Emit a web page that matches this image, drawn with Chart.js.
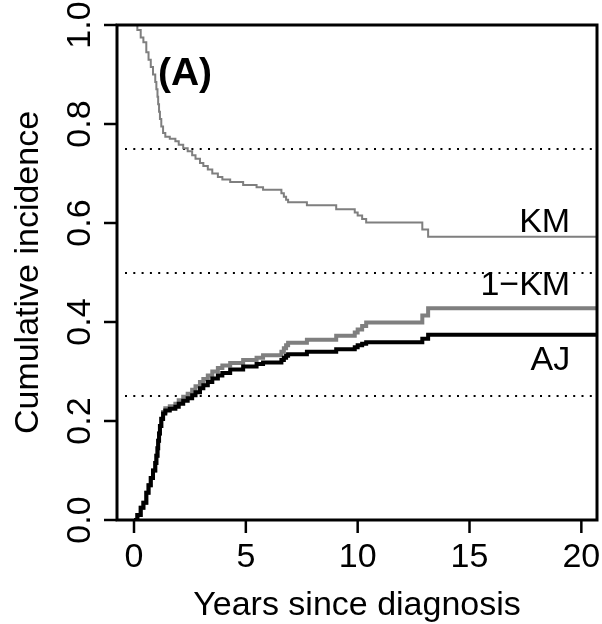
<!DOCTYPE html>
<html>
<head>
<meta charset="utf-8">
<script src="https://cdn.jsdelivr.net/npm/chart.js@4.4.1/dist/chart.umd.min.js"></script>
<style>
html, body { margin: 0; padding: 0; background: #fff; }
#wrap { width: 602px; height: 624px; }
</style>
</head>
<body>
<div id="wrap"><canvas id="graphCanvas" width="602" height="624"></canvas></div>
<script>
// event times (years) and curve values
var times = [0, 0.15, 0.3, 0.42, 0.55, 0.65, 0.75, 0.85, 0.95, 1.0, 1.05, 1.08, 1.12, 1.16, 1.22, 1.3, 1.4, 1.6, 1.85, 2.0,
             2.2, 2.4, 2.6, 2.75, 2.95, 3.1, 3.3, 3.5, 3.75, 3.95, 4.3, 4.88, 5.48, 5.77, 6.59, 6.7, 6.8, 6.89, 7.73, 9.04,
             9.87, 10.0, 10.2, 10.38, 12.89, 13.15, 20.8];
var km = [1.0, 0.99, 0.975, 0.965, 0.945, 0.93, 0.915, 0.90, 0.885, 0.87, 0.855, 0.84, 0.825, 0.81, 0.795, 0.782, 0.774, 0.770, 0.765, 0.758,
          0.751, 0.745, 0.737, 0.730, 0.721, 0.715, 0.708, 0.700, 0.693, 0.688, 0.683, 0.677, 0.672, 0.667, 0.660, 0.653, 0.647, 0.642, 0.636, 0.628,
          0.621, 0.615, 0.608, 0.601, 0.587, 0.572, 0.572];
var oneMinusKm = [0, 0.01, 0.025, 0.035, 0.055, 0.07, 0.085, 0.10, 0.115, 0.13, 0.145, 0.16, 0.175, 0.19, 0.205, 0.218, 0.226, 0.230, 0.235, 0.242,
                  0.249, 0.255, 0.263, 0.270, 0.279, 0.285, 0.292, 0.300, 0.307, 0.312, 0.317, 0.323, 0.328, 0.333, 0.340, 0.347, 0.353, 0.358, 0.364, 0.372,
                  0.379, 0.385, 0.392, 0.399, 0.413, 0.428, 0.428];
var aj = [0, 0.01, 0.025, 0.035, 0.055, 0.07, 0.085, 0.10, 0.115, 0.13, 0.145, 0.16, 0.175, 0.19, 0.204, 0.215, 0.221, 0.225, 0.229, 0.235,
          0.241, 0.246, 0.252, 0.258, 0.266, 0.272, 0.279, 0.286, 0.292, 0.297, 0.304, 0.310, 0.315, 0.318, 0.323, 0.328, 0.332, 0.335, 0.340, 0.345,
          0.349, 0.353, 0.356, 0.359, 0.366, 0.374, 0.374];

var xTicks = [0, 5, 10, 15, 20];
var yTicks = [0, 0.2, 0.4, 0.6, 0.8, 1.0];
var yTickLabels = ['0.0', '0.2', '0.4', '0.6', '0.8', '1.0'];
var refLines = [0.25, 0.5, 0.75];
var curveNames = ['KM', '1\u2212KM', 'AJ'];
var panelLabel = '(A)';
var xTitle = 'Years since diagnosis';
var yTitle = 'Cumulative incidence';

function toPoints(xs, ys) {
    var pts = [];
    for (var i in xs) {
        pts.push({x: xs[i], y: ys[i]});
    }
    return pts;
}

var FONT = "'Liberation Sans', Arial, Helvetica, sans-serif";

// R-style axes, box, reference lines and text
var basePlot = {
    id: 'basePlot',
    beforeDatasetsDraw: function (chart) {
        var ctx = chart.ctx, a = chart.chartArea, ys = chart.scales.y;
        ctx.save();
        ctx.strokeStyle = '#000';
        ctx.lineWidth = 2;
        ctx.setLineDash([2, 6.3]);
        refLines.forEach(function (v) {
            var py = Math.round(ys.getPixelForValue(v));
            ctx.beginPath();
            ctx.moveTo(a.left + 8, py);
            ctx.lineTo(a.right, py);
            ctx.stroke();
        });
        ctx.restore();
    },
    afterDraw: function (chart) {
        var ctx = chart.ctx, a = chart.chartArea;
        var xs = chart.scales.x, ys = chart.scales.y;
        ctx.save();
        ctx.strokeStyle = '#000';
        ctx.fillStyle = '#000';
        ctx.lineWidth = 3;
        ctx.strokeRect(a.left, a.top, a.right - a.left, a.bottom - a.top);

        // x ticks
        ctx.lineWidth = 2.5;
        ctx.font = '34px ' + FONT;
        ctx.textAlign = 'center';
        ctx.textBaseline = 'alphabetic';
        xTicks.forEach(function (v) {
            var px = xs.getPixelForValue(v);
            ctx.beginPath();
            ctx.moveTo(px, a.bottom);
            ctx.lineTo(px, a.bottom + 13);
            ctx.stroke();
            ctx.fillText(String(v), px, 567);
        });

        // y ticks, labels rotated
        yTicks.forEach(function (v, i) {
            var py = ys.getPixelForValue(v);
            ctx.beginPath();
            ctx.moveTo(a.left, py);
            ctx.lineTo(a.left - 13, py);
            ctx.stroke();
            ctx.save();
            ctx.translate(90, py);
            ctx.rotate(-Math.PI / 2);
            ctx.fillText(yTickLabels[i], 0, 0);
            ctx.restore();
        });

        // axis titles
        ctx.fillText(xTitle, (a.left + a.right) / 2, 615);
        ctx.save();
        ctx.translate(38, (a.top + a.bottom) / 2);
        ctx.rotate(-Math.PI / 2);
        ctx.fillText(yTitle, 0, 0);
        ctx.restore();

        // curve labels
        ctx.textAlign = 'right';
        var lx = xs.getPixelForValue(19.5);
        ctx.fillText(curveNames[0], lx, ys.getPixelForValue(0.582));
        ctx.fillText(curveNames[1], lx, ys.getPixelForValue(0.4545));
        ctx.fillText(curveNames[2], lx, ys.getPixelForValue(0.303));

        // panel label
        ctx.textAlign = 'left';
        ctx.font = 'bold 39px ' + FONT;
        ctx.fillText(panelLabel, xs.getPixelForValue(1.07), ys.getPixelForValue(0.879));
        ctx.restore();
    }
};

// first dataset is drawn on top
var chartdata = {
    datasets: [
        {
            label: 'AJ',
            data: toPoints(times, aj),
            borderColor: '#000000',
            borderWidth: 4,
            stepped: 'before',
            pointRadius: 0
        },
        {
            label: '1-KM',
            data: toPoints(times, oneMinusKm),
            borderColor: '#7f7f7f',
            borderWidth: 4,
            stepped: 'before',
            pointRadius: 0
        },
        {
            label: 'KM',
            data: toPoints(times, km),
            borderColor: '#7f7f7f',
            borderWidth: 2,
            stepped: 'before',
            pointRadius: 0
        }
    ]
};

var graphTarget = document.getElementById('graphCanvas');

var lineGraph = new Chart(graphTarget, {
    type: 'line',
    data: chartdata,
    options: {
        responsive: false,
        animation: false,
        events: [],
        layout: { padding: { left: 117, right: 5, top: 25, bottom: 104 } },
        plugins: { legend: { display: false }, tooltip: { enabled: false } },
        scales: {
            x: { type: 'linear', min: -0.76, max: 20.7, display: false },
            y: { type: 'linear', min: 0, max: 1, display: false }
        }
    },
    plugins: [basePlot]
});
</script>
</body>
</html>
